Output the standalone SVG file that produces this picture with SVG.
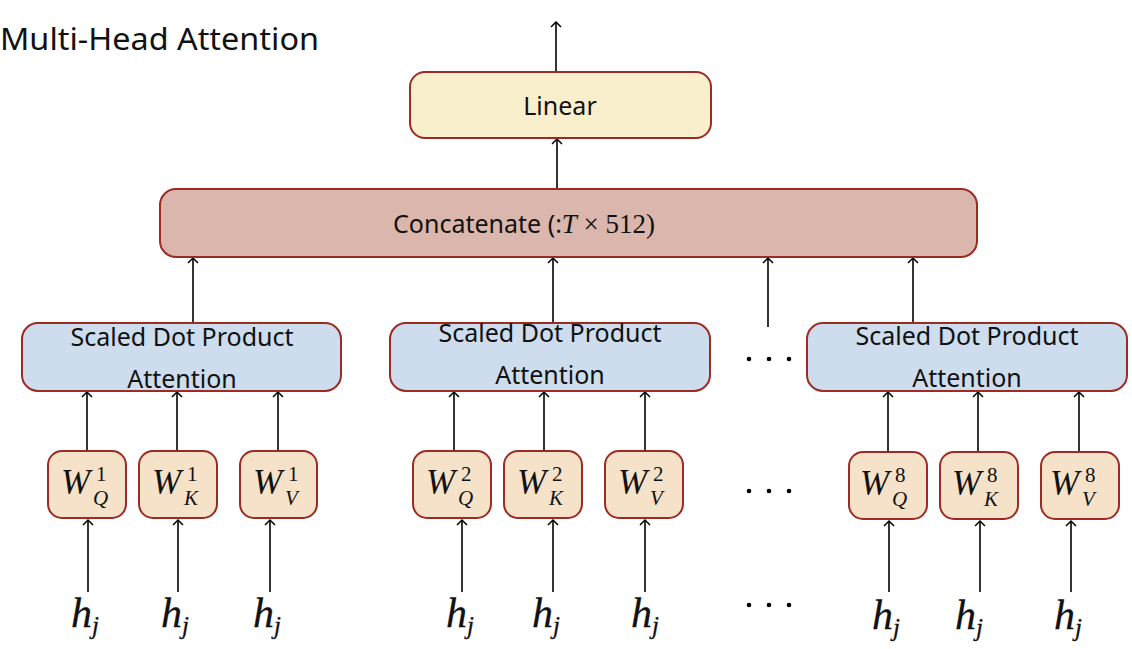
<svg xmlns="http://www.w3.org/2000/svg" width="1132" height="649" viewBox="0 0 1132 649">
<defs>
<marker id="ah" markerWidth="12" markerHeight="12" refX="6" refY="6" orient="auto" markerUnits="userSpaceOnUse">
<path d="M1,1 L6,6 L1,11" fill="none" stroke="#000" stroke-width="1.5"/>
</marker>
<style>
.box{stroke:#9c2b24;stroke-width:2}
.lin{fill:#faefcc}
.cat{fill:#dbb6ad}
.sdp{fill:#cddded}
.w{fill:#f5e2c9}
.sans{font-family:"Noto Sans","Open Sans",sans-serif;fill:#111}
.m{font-family:"Liberation Serif","DejaVu Serif",serif;fill:#111}
.it{font-style:italic}
.th{stroke:#111;stroke-width:0.3}
.c line{stroke:#000;stroke-width:1.6;marker-end:url(#ah)}
.dot{fill:#000}
</style>
</defs>
<rect width="1132" height="649" fill="#fff"/>
<text class="sans" x="0" y="50" font-size="30" textLength="319" lengthAdjust="spacingAndGlyphs" fill="#222">Multi-Head Attention</text>

<g class="c" id="connectors">
<line x1="556" y1="72" x2="556" y2="22"/>
<line x1="557" y1="189" x2="557" y2="139"/>
<line x1="193" y1="323" x2="193" y2="258"/>
<line x1="553" y1="322" x2="553" y2="258"/>
<line x1="768" y1="327" x2="768" y2="258"/>
<line x1="913" y1="322" x2="913" y2="258"/>
<line x1="87" y1="451" x2="87" y2="392"/>
<line x1="177" y1="451" x2="177" y2="392"/>
<line x1="278" y1="451" x2="278" y2="392"/>
<line x1="454" y1="451" x2="454" y2="392"/>
<line x1="544" y1="451" x2="544" y2="392"/>
<line x1="645" y1="451" x2="645" y2="392"/>
<line x1="888" y1="452" x2="888" y2="392"/>
<line x1="978" y1="452" x2="978" y2="392"/>
<line x1="1079" y1="452" x2="1079" y2="392"/>
<line x1="88" y1="592" x2="88" y2="520"/>
<line x1="178" y1="592" x2="178" y2="520"/>
<line x1="270" y1="592" x2="270" y2="520"/>
<line x1="462" y1="592" x2="462" y2="520"/>
<line x1="553" y1="592" x2="553" y2="520"/>
<line x1="645" y1="592" x2="645" y2="520"/>
<line x1="889" y1="592" x2="889" y2="521"/>
<line x1="980" y1="592" x2="980" y2="521"/>
<line x1="1071" y1="592" x2="1071" y2="521"/>
</g>

<g id="linear">
<rect class="box lin" x="410" y="72" width="301" height="66" rx="15"/>
<text class="sans" x="560" y="115" font-size="25" text-anchor="middle">Linear</text>
</g>

<g id="concat">
<rect class="box cat" x="160" y="189" width="817" height="68" rx="16"/>
<text x="393" y="233" font-size="25"><tspan class="sans">Concatenate (:</tspan><tspan class="m it" font-size="27">T</tspan><tspan class="m" font-size="27"> × 512)</tspan></text>
</g>

<g id="sdpa1">
<rect class="box sdp" x="22" y="323" width="319" height="68" rx="16"/>
<text class="sans" x="182" y="346" font-size="25" text-anchor="middle">Scaled Dot Product</text>
<text class="sans" x="182" y="388" font-size="25" text-anchor="middle">Attention</text>
</g>
<g id="sdpa2">
<rect class="box sdp" x="390" y="323" width="320" height="68" rx="16"/>
<text class="sans" x="550" y="342" font-size="25" text-anchor="middle">Scaled Dot Product</text>
<text class="sans" x="550" y="384" font-size="25" text-anchor="middle">Attention</text>
</g>
<g id="sdpa8">
<rect class="box sdp" x="807" y="323" width="320" height="68" rx="16"/>
<text class="sans" x="967" y="345" font-size="25" text-anchor="middle">Scaled Dot Product</text>
<text class="sans" x="967" y="387" font-size="25" text-anchor="middle">Attention</text>
</g>

<g id="wq1"><rect class="box w" x="48" y="451" width="78" height="67" rx="14"/>
<text class="m it" x="61" y="494" font-size="35">W</text><text class="m" x="96" y="481" font-size="21">1</text><text class="m it" x="93" y="505" font-size="21">Q</text></g>
<g id="wk1"><rect class="box w" x="139" y="451" width="78" height="67" rx="14"/>
<text class="m it" x="152" y="494" font-size="35">W</text><text class="m" x="187" y="481" font-size="21">1</text><text class="m it" x="184" y="505" font-size="21">K</text></g>
<g id="wv1"><rect class="box w" x="240" y="451" width="77" height="67" rx="14"/>
<text class="m it" x="253" y="494" font-size="35">W</text><text class="m" x="288" y="481" font-size="21">1</text><text class="m it" x="285" y="505" font-size="21">V</text></g>

<g id="wq2"><rect class="box w" x="413" y="451" width="78" height="67" rx="14"/>
<text class="m it" x="426" y="494" font-size="35">W</text><text class="m" x="461" y="481" font-size="21">2</text><text class="m it" x="458" y="505" font-size="21">Q</text></g>
<g id="wk2"><rect class="box w" x="504" y="451" width="78" height="67" rx="14"/>
<text class="m it" x="517" y="494" font-size="35">W</text><text class="m" x="552" y="481" font-size="21">2</text><text class="m it" x="549" y="505" font-size="21">K</text></g>
<g id="wv2"><rect class="box w" x="605" y="451" width="78" height="67" rx="14"/>
<text class="m it" x="618" y="494" font-size="35">W</text><text class="m" x="653" y="481" font-size="21">2</text><text class="m it" x="650" y="505" font-size="21">V</text></g>

<g id="wq8"><rect class="box w" x="849" y="452" width="78" height="67" rx="14"/>
<text class="m it" x="860" y="495" font-size="35">W</text><text class="m" x="895" y="482" font-size="21">8</text><text class="m it" x="892" y="506" font-size="21">Q</text></g>
<g id="wk8"><rect class="box w" x="940" y="452" width="78" height="67" rx="14"/>
<text class="m it" x="952" y="495" font-size="35">W</text><text class="m" x="987" y="482" font-size="21">8</text><text class="m it" x="984" y="506" font-size="21">K</text></g>
<g id="wv8"><rect class="box w" x="1041" y="452" width="78" height="67" rx="14"/>
<text class="m it" x="1050" y="495" font-size="35">W</text><text class="m" x="1085" y="482" font-size="21">8</text><text class="m it" x="1082" y="506" font-size="21">V</text></g>

<g id="inputs">
<text class="m it th" x="71" y="627" font-size="42">h<tspan font-size="25" dy="7">j</tspan></text>
<text class="m it th" x="161" y="627" font-size="42">h<tspan font-size="25" dy="7">j</tspan></text>
<text class="m it th" x="253" y="627" font-size="42">h<tspan font-size="25" dy="7">j</tspan></text>
<text class="m it th" x="446" y="627" font-size="42">h<tspan font-size="25" dy="7">j</tspan></text>
<text class="m it th" x="532" y="627" font-size="42">h<tspan font-size="25" dy="7">j</tspan></text>
<text class="m it th" x="631" y="627" font-size="42">h<tspan font-size="25" dy="7">j</tspan></text>
<text class="m it th" x="872" y="629" font-size="42">h<tspan font-size="25" dy="7">j</tspan></text>
<text class="m it th" x="955" y="629" font-size="42">h<tspan font-size="25" dy="7">j</tspan></text>
<text class="m it th" x="1054" y="629" font-size="42">h<tspan font-size="25" dy="7">j</tspan></text>
</g>

<g id="ellipses">
<circle class="dot" cx="749" cy="359" r="2.3"/><circle class="dot" cx="769" cy="359" r="2.3"/><circle class="dot" cx="789" cy="359" r="2.3"/>
<circle class="dot" cx="749" cy="491" r="2.3"/><circle class="dot" cx="769" cy="491" r="2.3"/><circle class="dot" cx="789" cy="491" r="2.3"/>
<circle class="dot" cx="749" cy="605" r="2.3"/><circle class="dot" cx="769" cy="605" r="2.3"/><circle class="dot" cx="789" cy="605" r="2.3"/>
</g>
</svg>
